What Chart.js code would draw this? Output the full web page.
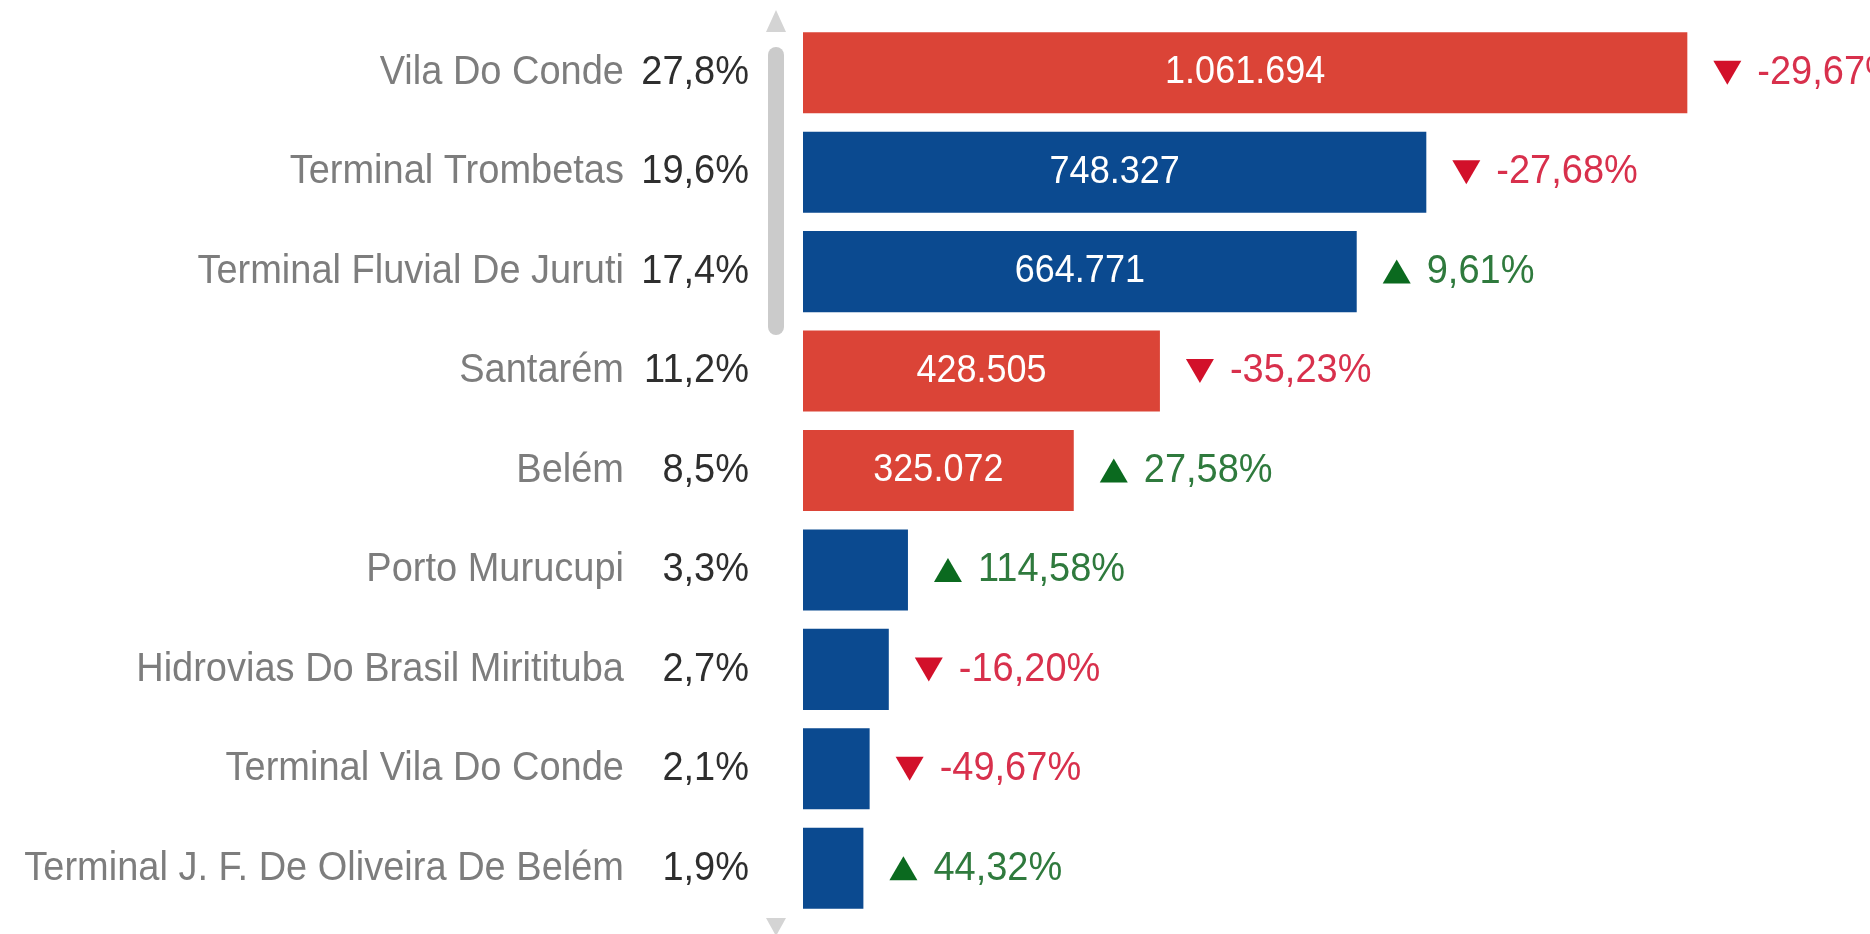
<!DOCTYPE html>
<html>
<head>
<meta charset="utf-8">
<script src="https://cdn.jsdelivr.net/npm/chart.js@4.4.1/dist/chart.umd.min.js"></script>
<style>
  html, body { margin: 0; padding: 0; background: #fff; }
  #wrap { width: 1870px; height: 934px; position: relative; }
</style>
</head>
<body>
<div id="wrap"><canvas id="portsChart"></canvas></div>
<script>
// data
const categories = [
    'Vila Do Conde',
    'Terminal Trombetas',
    'Terminal Fluvial De Juruti',
    'Santarém',
    'Belém',
    'Porto Murucupi',
    'Hidrovias Do Brasil Miritituba',
    'Terminal Vila Do Conde',
    'Terminal J. F. De Oliveira De Belém'
];
const volumes = [1061694, 748327, 664771, 428505, 325072, 126000, 103000, 80000, 72500];
const shares = [27.8, 19.6, 17.4, 11.2, 8.5, 3.3, 2.7, 2.1, 1.9];
const changes = [-29.67, -27.68, 9.61, -35.23, 27.58, 114.58, -16.20, -49.67, 44.32];
const flagged = [true, false, false, true, true, false, false, false, false];

const RED = '#db4437';
const BLUE = '#0b4a90';
const FONT = '"Liberation Sans", Arial, sans-serif';
const STRETCH = 1.08; // the reference text is a bit taller than wide

const fmtInt = (n) => String(Math.round(n)).replace(/\B(?=(\d{3})+(?!\d))/g, '.');
const fmtDec = (n, d) => n.toFixed(d).replace('.', ',');

function tallText(ctx, text, x, y, align) {
    ctx.save();
    ctx.translate(x, y);
    ctx.scale(1, STRETCH);
    ctx.textAlign = align;
    ctx.textBaseline = 'middle';
    ctx.fillText(text, 0, 0);
    ctx.restore();
}

const labelPlugin = {
    id: 'rowLabels',
    afterDatasetsDraw(chart) {
        const ctx = chart.ctx;
        const area = chart.chartArea;
        const meta = chart.getDatasetMeta(0);

        meta.data.forEach((bar, i) => {
            const y = bar.y;
            const x0 = bar.base;
            const x1 = bar.x;

            // category name + share, two right-aligned columns
            ctx.font = '38px ' + FONT;
            ctx.fillStyle = '#7d7d7d';
            tallText(ctx, categories[i], area.left - 179, y, 'right');
            ctx.fillStyle = '#2e2e2e';
            tallText(ctx, fmtDec(shares[i], 1) + '%', area.left - 54, y, 'right');

            // value inside the bar when it fits
            const valueText = fmtInt(volumes[i]);
            ctx.font = '36px ' + FONT;
            if (ctx.measureText(valueText).width + 30 < x1 - x0) {
                ctx.fillStyle = '#ffffff';
                tallText(ctx, valueText, (x0 + x1) / 2, y, 'center');
            }

            // change vs previous period
            const up = changes[i] >= 0;
            const tx = x1 + 26;
            const tw = 28;
            const th = 24;
            ctx.beginPath();
            if (up) {
                ctx.moveTo(tx, y + th / 2);
                ctx.lineTo(tx + tw, y + th / 2);
                ctx.lineTo(tx + tw / 2, y - th / 2);
            } else {
                ctx.moveTo(tx, y - th / 2);
                ctx.lineTo(tx + tw, y - th / 2);
                ctx.lineTo(tx + tw / 2, y + th / 2);
            }
            ctx.closePath();
            ctx.fillStyle = up ? '#0b6a1f' : '#d2102a';
            ctx.fill();

            ctx.font = '38px ' + FONT;
            ctx.fillStyle = up ? '#2f7a3d' : '#d8304c';
            tallText(ctx, fmtDec(changes[i], 2) + '%', tx + tw + 16, y, 'left');
        });
    }
};

// vertical scroll bar drawn beside the bars
const scrollPlugin = {
    id: 'scrollBar',
    afterDraw(chart) {
        const ctx = chart.ctx;
        const cx = chart.chartArea.left - 27;
        ctx.save();
        ctx.fillStyle = '#cbcbcb';
        ctx.beginPath();
        ctx.roundRect(cx - 8, 47, 16, 288, 8);
        ctx.fill();

        ctx.fillStyle = '#d4d4d4';
        ctx.beginPath();
        ctx.moveTo(cx, 10);
        ctx.lineTo(cx + 10, 32);
        ctx.lineTo(cx - 10, 32);
        ctx.closePath();
        ctx.fill();

        ctx.beginPath();
        ctx.moveTo(cx - 10, 918);
        ctx.lineTo(cx + 10, 918);
        ctx.lineTo(cx, 936);
        ctx.closePath();
        ctx.fill();
        ctx.restore();
    }
};

new Chart(document.getElementById('portsChart'), {
    type: 'bar',
    data: {
        labels: categories,
        datasets: [{
            data: volumes,
            backgroundColor: flagged.map(f => f ? RED : BLUE),
            borderWidth: 0,
            barPercentage: 0.815,
            categoryPercentage: 1
        }]
    },
    options: {
        indexAxis: 'y',
        responsive: true,
        maintainAspectRatio: false,
        animation: false,
        layout: {
            padding: { left: 803, right: 0, top: 23, bottom: 16 }
        },
        scales: {
            x: { display: false, min: 0, max: 1281000 },
            y: { display: false }
        },
        plugins: {
            legend: { display: false },
            tooltip: { enabled: false }
        }
    },
    plugins: [labelPlugin, scrollPlugin]
});
</script>
</body>
</html>
